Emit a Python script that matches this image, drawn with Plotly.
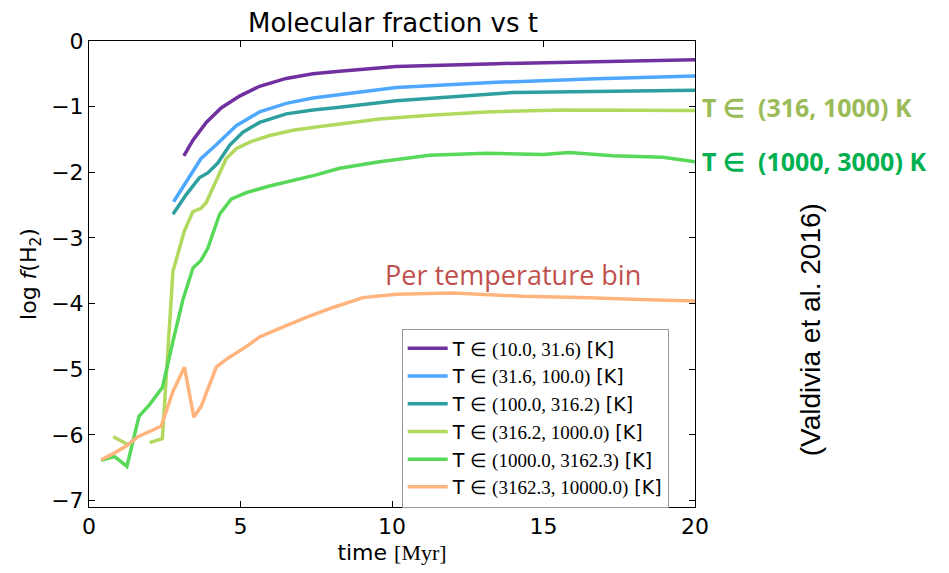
import plotly.graph_objects as go

# ---- data ----
labels = ["(10.0, 31.6)", "(31.6, 100.0)", "(100.0, 316.2)",
          "(316.2, 1000.0)", "(1000.0, 3162.3)", "(3162.3, 10000.0)"]
colors = ["#7030a0", "#4ea8ff", "#2e9f9f", "#b1d95e", "#58d858", "#ffb47d"]

t_purple = [3.13, 3.43, 3.87, 4.36, 4.97, 5.63, 6.51, 7.39, 8.27, 10.14, 13.44, 16.74, 20.0]
f_purple = [-1.75, -1.51, -1.24, -1.02, -0.84, -0.69, -0.57, -0.50, -0.46, -0.39, -0.345, -0.31, -0.285]

t_blue = [2.79, 3.21, 3.70, 4.20, 4.86, 5.63, 6.51, 7.39, 8.27, 10.14, 13.44, 16.74, 20.0]
f_blue = [-2.45, -2.14, -1.79, -1.58, -1.29, -1.08, -0.95, -0.87, -0.82, -0.71, -0.63, -0.575, -0.535]

t_teal = [2.77, 3.21, 3.65, 3.92, 4.25, 4.64, 5.08, 5.63, 6.51, 7.39, 8.27, 10.14, 13.99, 16.74, 20.0]
f_teal = [-2.64, -2.34, -2.08, -2.01, -1.86, -1.59, -1.39, -1.24, -1.11, -1.05, -1.01, -0.91, -0.785, -0.77, -0.75]

t_ygreen = [0.8, 1.25, 1.6, 2.0, 2.42, 2.77, 3.15, 3.43, 3.70, 3.87, 4.20, 4.53, 4.86, 5.30,
            5.96, 6.73, 7.50, 8.27, 9.59, 11.24, 13.10, 15.64, 17.84, 20.0]
f_ygreen = [-6.03, -6.14, None, -6.12, -6.06, -3.51, -2.89, -2.60, -2.55, -2.46, -2.14, -1.79, -1.64, -1.54,
            -1.44, -1.36, -1.31, -1.27, -1.19, -1.13, -1.08, -1.05, -1.05, -1.06]

t_green = [0.40, 0.84, 1.25, 1.65, 2.00, 2.42, 2.80, 3.10, 3.43, 3.70, 3.92, 4.31, 4.69, 5.19, 5.96,
           6.73, 7.50, 8.27, 9.59, 11.24, 13.10, 14.98, 15.86, 17.29, 18.94, 20.0]
f_green = [-6.39, -6.33, -6.48, -5.72, -5.54, -5.28, -4.52, -3.94, -3.46, -3.34, -3.16, -2.64, -2.41, -2.31, -2.21,
           -2.13, -2.04, -1.94, -1.84, -1.74, -1.71, -1.73, -1.70, -1.75, -1.77, -1.84]

t_orange = [0.40, 0.79, 1.23, 1.61, 2.00, 2.38, 2.77, 3.15, 3.46, 3.70, 4.20, 4.53, 5.08, 5.63, 6.29,
            7.17, 8.05, 9.04, 10.14, 12.0, 14.32, 16.52, 18.17, 20.0]
f_orange = [-6.38, -6.29, -6.17, -6.03, -5.95, -5.87, -5.34, -4.97, -5.73, -5.57, -4.97, -4.85, -4.69, -4.51, -4.38,
            -4.21, -4.06, -3.91, -3.86, -3.84, -3.89, -3.91, -3.94, -3.96]

series_t = [t_purple, t_blue, t_teal, t_ygreen, t_green, t_orange]
series_f = [f_purple, f_blue, f_teal, f_ygreen, f_green, f_orange]

x_ticks = [0, 5, 10, 15, 20]
y_ticks = [0, -1, -2, -3, -4, -5, -6, -7]

fig = go.Figure()
for lab, col, tt, ff in zip(labels, colors, series_t, series_f):
    fig.add_trace(go.Scatter(
        x=tt, y=ff, mode="lines", connectgaps=False,
        line=dict(color=col, width=3.5),
        name="T <span style='font-family:Liberation Serif'>∈ " + lab + "</span> [K]",
    ))

axis_common = dict(
    showgrid=False, zeroline=False, showline=True, linecolor="black", linewidth=1,
    mirror="allticks", ticks="inside", ticklen=6, tickcolor="black",
    tickfont=dict(family="DejaVu Sans", size=22, color="black"),
)
fig.update_xaxes(range=[0, 20], tickvals=x_ticks, ticktext=[str(v) for v in x_ticks],
                 title=dict(text="time <span style='font-family:Liberation Serif'>[Myr]</span>",
                            font=dict(family="DejaVu Sans", size=22, color="black"), standoff=6),
                 **axis_common)
fig.update_yaxes(range=[-7.1, 0], tickvals=y_ticks,
                 ticktext=["0" if v == 0 else "\u2212" + str(-v) for v in y_ticks],
                 title=dict(text="log <i>f</i>(H<sub>2</sub>)",
                            font=dict(family="DejaVu Sans", size=22, color="black"), standoff=8),
                 **axis_common)

fig.update_layout(
    width=949, height=573,
    margin=dict(l=89, r=254, t=41, b=61),
    paper_bgcolor="white", plot_bgcolor="white",
    title=dict(text="Molecular fraction vs t", x=(393) / 949, xanchor="center",
               y=1 - 23 / 573, yanchor="middle",
               font=dict(family="DejaVu Sans", size=26, color="black")),
    showlegend=True,
    legend=dict(x=0.516, y=0.383, xanchor="left", yanchor="top",
                bgcolor="white", bordercolor="#999999", borderwidth=1,
                font=dict(family="DejaVu Sans", size=19, color="black"),
                itemwidth=40, tracegroupgap=0),
    annotations=[
        dict(text="<b>T ∈  (316, 1000) K</b>", xref="paper", yref="paper",
             x=1.0075, y=0.858, xanchor="left", yanchor="middle", showarrow=False,
             font=dict(family="Open Sans", size=25, color="#9bbb59")),
        dict(text="<b>T ∈  (1000, 3000) K</b>", xref="paper", yref="paper",
             x=1.0075, y=0.743, xanchor="left", yanchor="middle", showarrow=False,
             font=dict(family="Open Sans", size=25, color="#00b050")),
        dict(text="(Valdivia et al. 2016)", xref="paper", yref="paper",
             x=1.192, y=0.38, xanchor="center", yanchor="middle", showarrow=False,
             textangle=-90,
             font=dict(family="Liberation Sans", size=28, color="black")),
        dict(text="Per temperature bin", xref="x", yref="y",
             x=9.7, y=-3.55, xanchor="left", yanchor="middle", showarrow=False,
             font=dict(family="Open Sans", size=27, color="#c0504d")),
    ],
)

fig.write_html("out.html")
